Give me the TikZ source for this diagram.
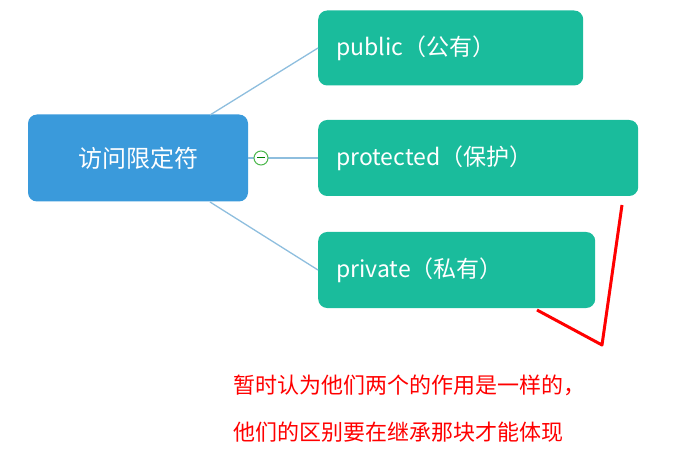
\documentclass[tikz,border=0pt]{standalone}
\usepackage{fontspec}
\setmainfont{Noto Sans CJK SC}
\begin{document}
\begin{tikzpicture}[x=1pt,y=-1pt,
  root/.style={fill=rootblue,rounded corners=9pt,text=white,font=\fontsize{24}{28}\selectfont},
  leaf/.style={fill=leafgreen,rounded corners=9pt,text=white,font=\fontsize{23}{28}\selectfont,anchor=west,inner xsep=18pt},
  conn/.style={draw=linkblue,line width=1.3pt},
  redline/.style={draw=red,line width=3pt},
  note/.style={text=red,font=\fontsize{22}{28}\selectfont,anchor=west}]
\definecolor{rootblue}{HTML}{3A9ADB}
\definecolor{leafgreen}{HTML}{1ABC9C}
\definecolor{linkblue}{HTML}{8EBEDE}
\useasboundingbox (0,0) rectangle (688,449);
\node[root,minimum width=220pt,minimum height=87pt] (root) at (138,158) {访问限定符};
\node[leaf,minimum width=265pt,minimum height=75pt,text width=229pt] (pub) at (318,48) {public（公有）};
\node[leaf,minimum width=320pt,minimum height=76pt,text width=284pt] (pro) at (318,158) {protected（保护）};
\node[leaf,minimum width=277pt,minimum height=76pt,text width=241pt] (pri) at (318,270) {private（私有）};
\coordinate (r1) at (210,115);
\coordinate (r3) at (210,202);
\draw[conn] (r1) -- (pub.west);
\draw[conn] (root.east) -- (pro.west);
\draw[conn] (r3) -- (pri.west);
\node[circle,draw=green!60!black!70,fill=white,line width=1pt,inner sep=0pt,minimum size=14pt] (col) at (261,158) {};
\draw[green!50!black,line width=1pt] ([xshift=-4pt]col.center) -- ([xshift=4pt]col.center);
\coordinate (a) at (622,205);
\coordinate (b) at (602,345);
\coordinate (c) at (537,310);
\draw[redline,line join=round] (a) -- (b) -- (c);
\node[note] (n1) at (230,385) {暂时认为他们两个的作用是一样的，};
\node[note] (n2) at (230,432) {他们的区别要在继承那块才能体现};
\end{tikzpicture}
\end{document}
